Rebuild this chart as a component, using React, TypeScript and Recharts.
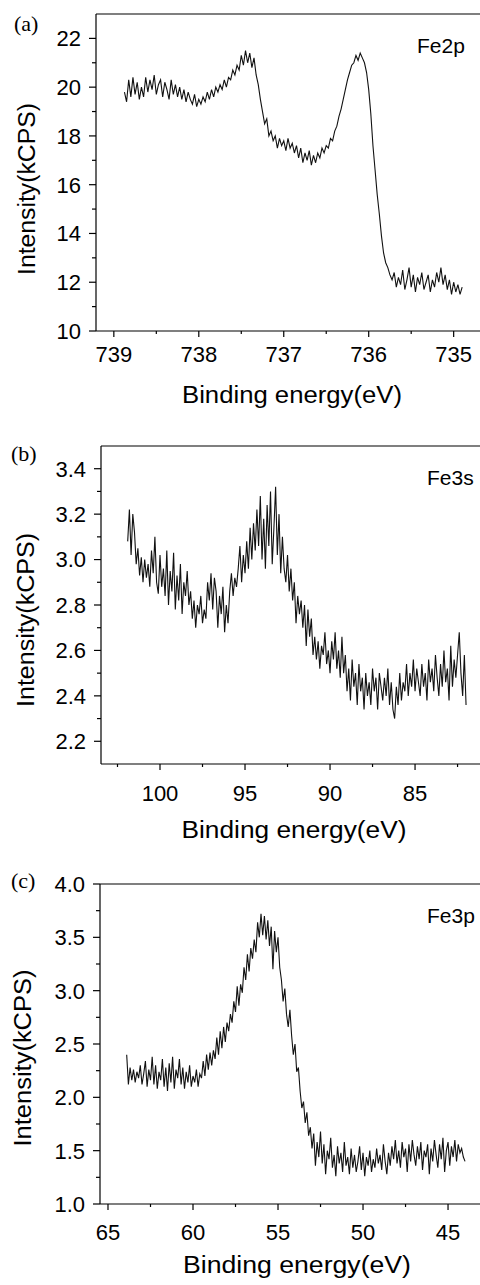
import React from 'react';
import { LineChart, Line, XAxis, YAxis, ReferenceLine } from 'recharts';

// Fe2p spectrum: 738.875 eV down in 0.025 eV steps
const fe2pStart = 738.875;
const fe2pStep = 0.025;
const fe2pValues = [
  19.8, 19.4, 20.3, 19.6, 20.4, 19.7, 20.2, 19.5, 20.0, 19.6,
  20.4, 19.8, 20.3, 19.9, 20.5, 19.7, 20.1, 20.3, 19.6, 20.2,
  19.9, 19.5, 20.3, 19.7, 20.1, 19.6, 20.0, 19.5, 19.9, 19.4,
  19.8, 19.5, 19.3, 19.7, 19.2, 19.5, 19.3, 19.6, 19.4, 19.8,
  19.5, 19.9, 19.6, 20.0, 19.8, 20.1, 19.9, 20.3, 20.0, 20.4,
  20.3, 20.7, 20.5, 20.9, 20.7, 21.3, 20.9, 21.5, 21.0, 21.4,
  20.8, 21.2, 20.5, 20.1, 19.5, 19.0, 18.5, 18.7, 18.0, 18.2,
  17.8, 18.0, 17.5, 17.9, 17.6, 17.8, 17.4, 17.9, 17.5, 17.7,
  17.3, 17.6, 17.1, 17.5, 16.9, 17.3, 17.0, 17.4, 16.8, 17.2,
  16.9, 17.3, 17.1, 17.5, 17.3, 17.6, 17.5, 17.9, 17.8, 18.2,
  18.4, 18.8, 19.1, 19.5, 19.9, 20.3, 20.6, 20.9, 21.0, 21.3,
  21.1, 21.4, 21.2, 21.0, 20.6, 19.9, 18.9, 17.6, 16.6, 15.6,
  14.8, 13.9, 13.2, 12.8, 12.6, 12.3, 12.1, 12.4, 11.8, 12.2,
  11.9, 12.5, 11.7, 12.1, 12.6, 11.8, 12.3, 11.6, 12.2, 11.9,
  12.4, 11.7, 12.0, 12.3, 11.6, 12.1, 11.8, 12.4, 12.0, 12.6,
  11.9, 12.3, 11.7, 12.1, 11.5, 12.0, 11.6, 11.9, 11.5, 11.8,
];

// Fe3s spectrum: 101.9 eV down in 0.1 eV steps
const fe3sStart = 101.9;
const fe3sStep = 0.1;
const fe3sValues = [
  3.08, 3.22, 3.02, 3.20, 3.12, 2.98, 3.05, 2.93, 3.01, 2.90,
  3.00, 2.92, 2.98, 2.88, 3.04, 2.94, 3.10, 2.90, 2.85, 3.02,
  2.88, 2.96, 2.84, 3.04, 2.80, 2.95, 2.86, 3.03, 2.78, 2.93,
  2.82, 2.98, 2.76, 2.90, 2.84, 2.95, 2.80, 2.86, 2.74, 2.82,
  2.70, 2.80, 2.76, 2.84, 2.72, 2.78, 2.74, 2.90, 2.82, 2.94,
  2.78, 2.92, 2.86, 2.70, 2.84, 2.76, 2.88, 2.68, 2.80, 2.72,
  2.86, 2.94, 2.84, 2.92, 2.88, 2.96, 3.06, 2.90, 3.02, 2.94,
  3.08, 2.96, 3.14, 3.00, 3.16, 3.04, 3.22, 3.06, 3.28, 3.00,
  3.18, 2.96, 3.24, 3.06, 3.30, 2.98, 3.14, 3.32, 3.02, 3.20,
  2.94, 3.10, 2.96, 2.90, 3.02, 2.86, 2.96, 2.82, 2.90, 2.72,
  2.84, 2.76, 2.82, 2.70, 2.80, 2.62, 2.78, 2.66, 2.74, 2.58,
  2.66, 2.56, 2.64, 2.52, 2.62, 2.58, 2.68, 2.54, 2.60, 2.50,
  2.64, 2.56, 2.68, 2.52, 2.60, 2.48, 2.66, 2.50, 2.58, 2.42,
  2.52, 2.38, 2.56, 2.44, 2.50, 2.36, 2.54, 2.42, 2.48, 2.34,
  2.50, 2.40, 2.46, 2.36, 2.52, 2.42, 2.48, 2.34, 2.50, 2.44,
  2.38, 2.48, 2.40, 2.52, 2.36, 2.46, 2.34, 2.30, 2.44, 2.36,
  2.50, 2.38, 2.46, 2.42, 2.54, 2.40, 2.50, 2.44, 2.56, 2.42,
  2.52, 2.46, 2.40, 2.54, 2.44, 2.50, 2.38, 2.56, 2.46, 2.52,
  2.42, 2.58, 2.48, 2.40, 2.54, 2.44, 2.60, 2.46, 2.52, 2.38,
  2.62, 2.44, 2.56, 2.48, 2.58, 2.68, 2.50, 2.40, 2.58, 2.36,
];

// Fe3p spectrum: 63.9 eV down in 0.1 eV steps
const fe3pStart = 63.9;
const fe3pStep = 0.1;
const fe3pValues = [
  2.40, 2.12, 2.28, 2.16, 2.26, 2.14, 2.24, 2.18, 2.30, 2.12,
  2.22, 2.34, 2.10, 2.26, 2.16, 2.38, 2.12, 2.30, 2.08, 2.24,
  2.16, 2.36, 2.10, 2.28, 2.06, 2.32, 2.14, 2.38, 2.08, 2.26,
  2.18, 2.36, 2.12, 2.28, 2.08, 2.24, 2.14, 2.30, 2.10, 2.20,
  2.14, 2.26, 2.10, 2.22, 2.18, 2.34, 2.20, 2.40, 2.26, 2.42,
  2.30, 2.44, 2.36, 2.56, 2.40, 2.62, 2.46, 2.66, 2.52, 2.70,
  2.62, 2.78, 2.70, 2.90, 2.80, 3.04, 2.86, 3.06, 2.98, 3.22,
  3.10, 3.34, 3.18, 3.40, 3.30, 3.48, 3.36, 3.64, 3.50, 3.72,
  3.52, 3.70, 3.48, 3.66, 3.42, 3.60, 3.20, 3.56, 3.36, 3.50,
  3.22, 3.10, 2.90, 3.02, 2.78, 2.66, 2.82, 2.58, 2.40, 2.50,
  2.24, 2.28, 2.06, 1.90, 1.96, 1.76, 1.86, 1.64, 1.72, 1.52,
  1.66, 1.36, 1.58, 1.44, 1.68, 1.38, 1.56, 1.28, 1.50, 1.42,
  1.62, 1.34, 1.46, 1.26, 1.54, 1.38, 1.48, 1.30, 1.58, 1.36,
  1.44, 1.28, 1.52, 1.34, 1.46, 1.30, 1.40, 1.54, 1.32, 1.48,
  1.26, 1.44, 1.36, 1.50, 1.30, 1.42, 1.34, 1.52, 1.38, 1.46,
  1.32, 1.56, 1.40, 1.28, 1.48, 1.36, 1.54, 1.42, 1.60, 1.38,
  1.50, 1.34, 1.58, 1.44, 1.52, 1.30, 1.56, 1.40, 1.60, 1.46,
  1.36, 1.54, 1.42, 1.58, 1.32, 1.50, 1.44, 1.56, 1.28, 1.52,
  1.40, 1.60, 1.46, 1.34, 1.56, 1.42, 1.62, 1.30, 1.50, 1.58,
  1.36, 1.54, 1.44, 1.60, 1.40, 1.56, 1.48, 1.52, 1.44, 1.40,
];

// axis ticks
const fe2pXMajor = [739, 738, 737, 736, 735];
const fe2pXMinor = [738.5, 737.5, 736.5, 735.5];
const fe2pYMajor = [10, 12, 14, 16, 18, 20, 22];
const fe2pYMinor = [11, 13, 15, 17, 19, 21];

const fe3sXMajor = [100, 95, 90, 85];
const fe3sXMinor = [102.5, 97.5, 92.5, 87.5, 82.5];
const fe3sYMajor = [2.2, 2.4, 2.6, 2.8, 3.0, 3.2, 3.4];
const fe3sYMinor = [2.3, 2.5, 2.7, 2.9, 3.1, 3.3];

const fe3pXMajor = [65, 60, 55, 50, 45];
const fe3pXMinor = [62.5, 57.5, 52.5, 47.5];
const fe3pYMajor = [1.0, 1.5, 2.0, 2.5, 3.0, 3.5, 4.0];
const fe3pYMinor = [1.25, 1.75, 2.25, 2.75, 3.25, 3.75];

const toSeries = (start: number, step: number, values: number[]) =>
  values.map((v, i) => ({ e: +(start - i * step).toFixed(3), v }));

const FONT = '"Liberation Sans", Arial, Helvetica, sans-serif';

interface PanelProps {
  top: number;
  height: number;
  plotLeft: number;
  plotTop: number;
  plotBottom: number;
  xDomain: [number, number];
  yDomain: [number, number];
  xMajor: number[];
  xMinor: number[];
  yMajor: number[];
  yMinor: number[];
  yDigits: number;
  xLabelDy: number;
  data: { e: number; v: number }[];
}

const Panel: React.FC<PanelProps> = (p) => {
  const isMajor = (list: number[], v: number) => list.some((m) => Math.abs(m - v) < 1e-6);

  const YTick = (props: any) => {
    const { x, y, payload } = props;
    const major = isMajor(p.yMajor, payload.value);
    return (
      <g>
        <line x1={x - (major ? 7 : 4)} x2={x} y1={y} y2={y} stroke="#000" strokeWidth={1.2} />
        {major && (
          <text x={x - 15} y={y} dy="0.36em" textAnchor="end" fontSize={22} fill="#000" fontFamily={FONT}>
            {payload.value.toFixed(p.yDigits)}
          </text>
        )}
      </g>
    );
  };

  const XTick = (props: any) => {
    const { x, y, payload } = props;
    const major = isMajor(p.xMajor, payload.value);
    return (
      <g>
        <line x1={x} x2={x} y1={y} y2={y + (major ? 6 : 3)} stroke="#000" strokeWidth={1.2} />
        {major && (
          <text x={x} y={y + p.xLabelDy} textAnchor="middle" fontSize={22} fill="#000" fontFamily={FONT}>
            {payload.value}
          </text>
        )}
      </g>
    );
  };

  return (
    <div style={{ position: 'absolute', left: 0, top: p.top }}>
      <LineChart
        width={480}
        height={p.height}
        data={p.data}
        margin={{ top: p.plotTop, right: 0, left: 0, bottom: 0 }}
      >
        <XAxis
          dataKey="e"
          type="number"
          reversed
          domain={p.xDomain}
          allowDataOverflow
          ticks={[...p.xMajor, ...p.xMinor]}
          interval={0}
          tickSize={0}
          tickMargin={0}
          tickLine={false}
          tick={<XTick />}
          height={p.height - p.plotBottom}
          axisLine={{ stroke: '#000', strokeWidth: 1.2 }}
        />
        <YAxis
          type="number"
          domain={p.yDomain}
          allowDataOverflow
          ticks={[...p.yMajor, ...p.yMinor]}
          interval={0}
          tickSize={0}
          tickMargin={0}
          tickLine={false}
          tick={<YTick />}
          width={p.plotLeft}
          axisLine={{ stroke: '#000', strokeWidth: 1.2 }}
        />
        <ReferenceLine y={p.yDomain[1]} stroke="#000" strokeWidth={1.2} />
        <Line
          dataKey="v"
          type="linear"
          stroke="#111"
          strokeWidth={1.1}
          dot={false}
          isAnimationActive={false}
        />
      </LineChart>
    </div>
  );
};

const App: React.FC = () => {
  const fe2p = toSeries(fe2pStart, fe2pStep, fe2pValues);
  const fe3s = toSeries(fe3sStart, fe3sStep, fe3sValues);
  const fe3p = toSeries(fe3pStart, fe3pStep, fe3pValues);

  const xTitle = 'Binding energy(eV)';
  const yTitle = 'Intensity(kCPS)';

  return (
    <div
      style={{
        position: 'absolute',
        left: 0,
        top: 0,
        width: 480,
        height: 1285,
        overflow: 'hidden',
        background: '#fff',
        fontFamily: FONT,
      }}
    >
      <Panel
        top={0}
        height={420}
        plotLeft={96}
        plotTop={14}
        plotBottom={331}
        xDomain={[734.69, 739.21]}
        yDomain={[10, 23]}
        xMajor={fe2pXMajor}
        xMinor={fe2pXMinor}
        yMajor={fe2pYMajor}
        yMinor={fe2pYMinor}
        yDigits={0}
        xLabelDy={31}
        data={fe2p}
      />
      <Panel
        top={420}
        height={430}
        plotLeft={101}
        plotTop={26}
        plotBottom={344}
        xDomain={[81.18, 103.47]}
        yDomain={[2.1, 3.5]}
        xMajor={fe3sXMajor}
        xMinor={fe3sXMinor}
        yMajor={fe3sYMajor}
        yMinor={fe3sYMinor}
        yDigits={1}
        xLabelDy={37}
        data={fe3s}
      />
      <Panel
        top={850}
        height={435}
        plotLeft={100}
        plotTop={34}
        plotBottom={354}
        xDomain={[43.12, 65.47]}
        yDomain={[1.0, 4.0]}
        xMajor={fe3pXMajor}
        xMinor={fe3pXMinor}
        yMajor={fe3pYMajor}
        yMinor={fe3pYMinor}
        yDigits={1}
        xLabelDy={36}
        data={fe3p}
      />
      <svg
        width={480}
        height={1285}
        style={{ position: 'absolute', left: 0, top: 0, pointerEvents: 'none' }}
      >
        <g fontFamily='"Liberation Serif", "Times New Roman", serif' fontSize={22} fill="#000">
          <text x={14} y={31}>(a)</text>
          <text x={11} y={461}>(b)</text>
          <text x={11} y={888}>(c)</text>
        </g>
        <g fontFamily={FONT} fontSize={21} fill="#000">
          <text x={417} y={53}>Fe2p</text>
          <text x={427} y={485}>Fe3s</text>
          <text x={427} y={923}>Fe3p</text>
        </g>
        <g fontFamily={FONT} fontSize={23} fill="#000">
          <text x={292} y={403} textAnchor="middle" textLength={220} lengthAdjust="spacingAndGlyphs">{xTitle}</text>
          <text x={294} y={838} textAnchor="middle" textLength={225} lengthAdjust="spacingAndGlyphs">{xTitle}</text>
          <text x={297} y={1273} textAnchor="middle" textLength={228} lengthAdjust="spacingAndGlyphs">{xTitle}</text>
          <text transform="translate(35,189) rotate(-90)" textAnchor="middle" textLength={172} lengthAdjust="spacingAndGlyphs">{yTitle}</text>
          <text transform="translate(34,620) rotate(-90)" textAnchor="middle" textLength={174} lengthAdjust="spacingAndGlyphs">{yTitle}</text>
          <text transform="translate(31,1058) rotate(-90)" textAnchor="middle" textLength={177} lengthAdjust="spacingAndGlyphs">{yTitle}</text>
        </g>
      </svg>
    </div>
  );
};

export default App;
